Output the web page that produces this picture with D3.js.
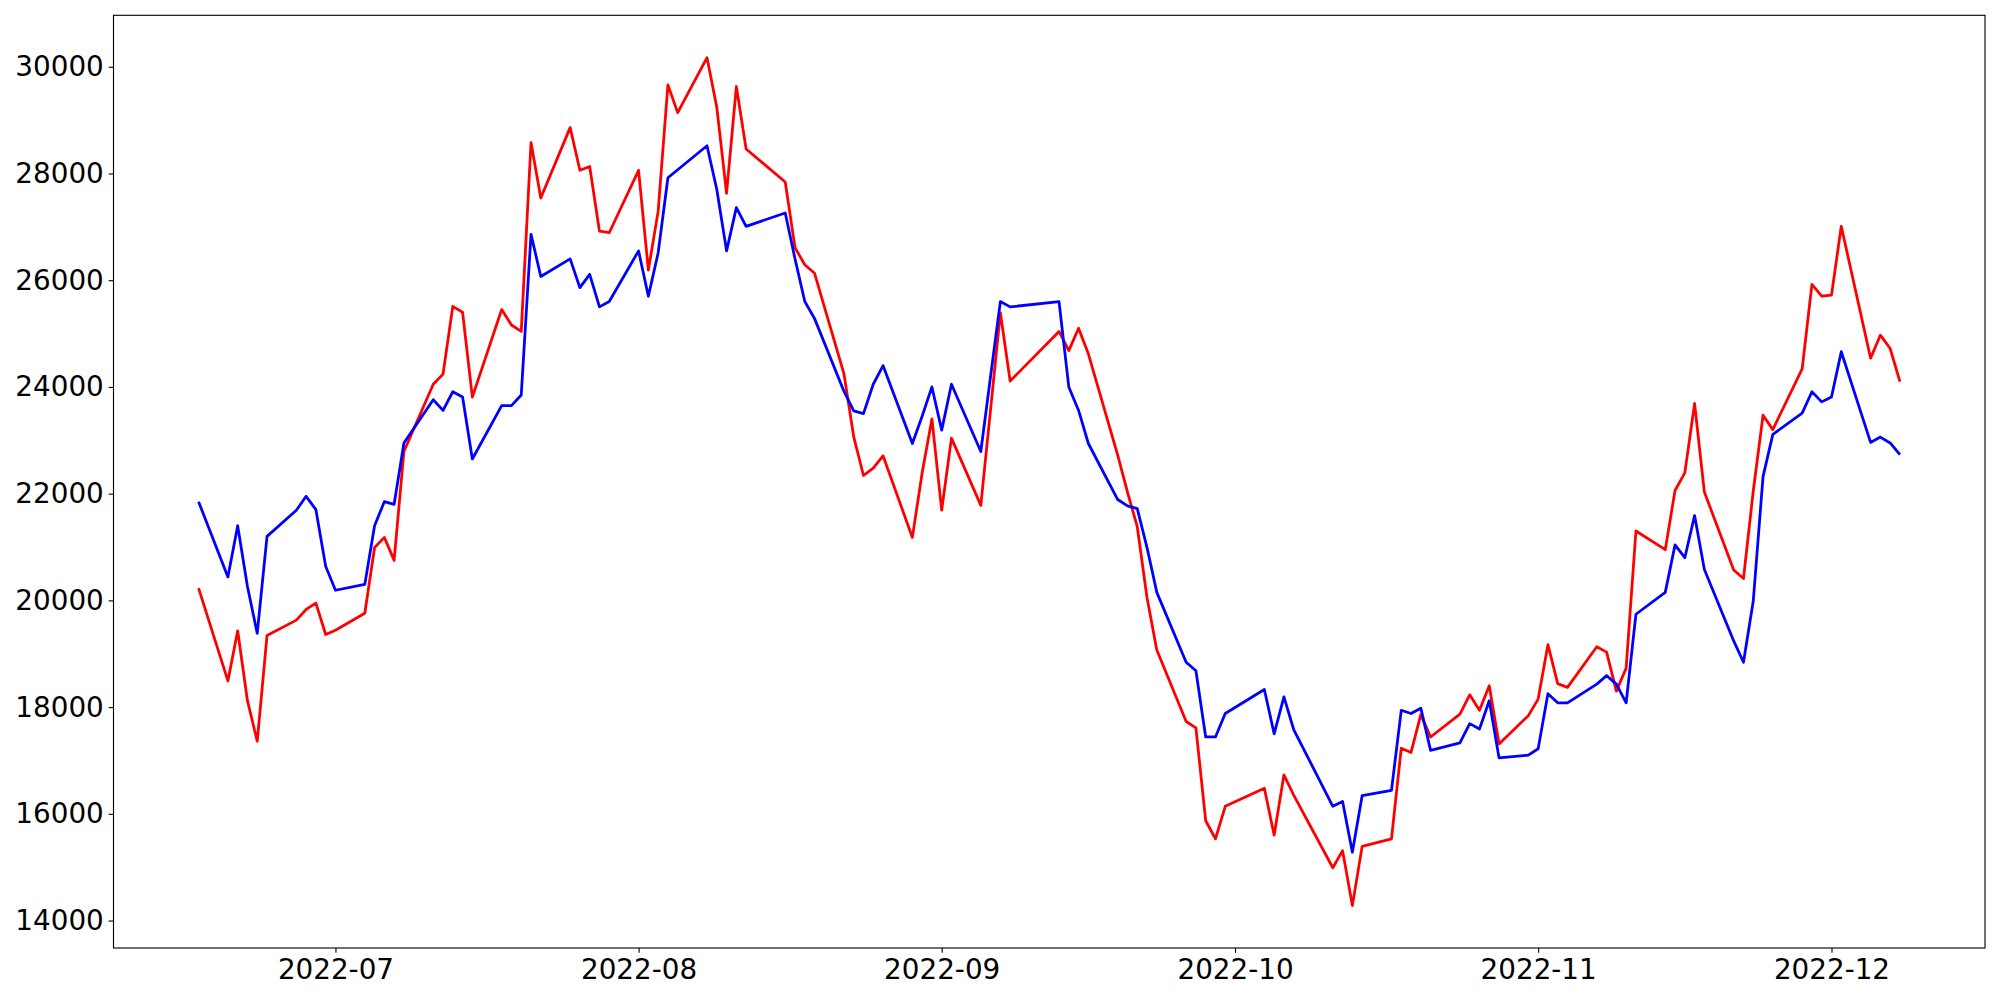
<!DOCTYPE html>
<html><head><meta charset="utf-8">
<script src="https://cdn.jsdelivr.net/npm/d3@7"></script>
<style>html,body{margin:0;padding:0;background:#fff;} svg{display:block;}</style>
</head><body>
<svg id="chart" width="2000" height="1000"></svg>
<script>
const dates = [
 "2022-06-17","2022-06-20","2022-06-21","2022-06-22","2022-06-23","2022-06-24","2022-06-27","2022-06-28","2022-06-29","2022-06-30",
 "2022-07-01","2022-07-04","2022-07-05","2022-07-06","2022-07-07","2022-07-08","2022-07-11","2022-07-12","2022-07-13","2022-07-14","2022-07-15","2022-07-18","2022-07-19","2022-07-20","2022-07-21","2022-07-22","2022-07-25","2022-07-26","2022-07-27","2022-07-28","2022-07-29",
 "2022-08-01","2022-08-02","2022-08-03","2022-08-04","2022-08-05","2022-08-08","2022-08-09","2022-08-10","2022-08-11","2022-08-12","2022-08-16","2022-08-17","2022-08-18","2022-08-19","2022-08-22","2022-08-23","2022-08-24","2022-08-25","2022-08-26","2022-08-29","2022-08-30","2022-08-31",
 "2022-09-01","2022-09-02","2022-09-05","2022-09-06","2022-09-07","2022-09-08","2022-09-13","2022-09-14","2022-09-15","2022-09-16","2022-09-19","2022-09-20","2022-09-21","2022-09-22","2022-09-23","2022-09-26","2022-09-27","2022-09-28","2022-09-29","2022-09-30",
 "2022-10-04","2022-10-05","2022-10-06","2022-10-07","2022-10-11","2022-10-12","2022-10-13","2022-10-14","2022-10-17","2022-10-18","2022-10-19","2022-10-20","2022-10-21","2022-10-24","2022-10-25","2022-10-26","2022-10-27","2022-10-28","2022-10-31",
 "2022-11-01","2022-11-02","2022-11-03","2022-11-04","2022-11-07","2022-11-08","2022-11-09","2022-11-10","2022-11-11","2022-11-14","2022-11-15","2022-11-16","2022-11-17","2022-11-18","2022-11-21","2022-11-22","2022-11-23","2022-11-24","2022-11-25","2022-11-28","2022-11-29","2022-11-30",
 "2022-12-01","2022-12-02","2022-12-05","2022-12-06","2022-12-07","2022-12-08"
];
const redSeries = [
 20230,18490,19430,18120,17360,19340,19630,19830,19950,19360,
 19440,19760,20990,21180,20750,22790,24050,24240,25510,25400,23810,25450,25160,25040,28580,27540,28860,28060,28130,26920,26890,
 28060,26190,27290,29660,29140,30170,29240,27630,29630,28460,27840,26610,26290,26130,24250,23070,22340,22480,22710,21180,22390,23400,
 21690,23040,21780,23580,25390,24110,25040,24680,25100,24620,22720,22030,21380,20050,19070,17730,17610,15870,15530,16140,
 16480,15600,16730,16350,14990,15310,14280,15390,15530,17230,17150,17860,17440,17870,18230,17940,18400,17310,17840,
 18150,19170,18440,18370,19130,19030,18300,18730,21300,20950,22060,22390,23690,22030,20570,20410,22050,23470,23200,24340,25920,25700,
 25720,27010,24540,24970,24720,24100
];
const blueSeries = [
 21850,20440,21400,20260,19380,21200,21690,21950,21700,20640,
 20190,20300,21400,21850,21800,22950,23760,23560,23910,23810,22650,23650,23650,23850,26860,26070,26400,25860,26110,25500,25600,
 26550,25700,26510,27920,28070,28520,27700,26550,27360,27010,27260,26400,25600,25280,23920,23550,23500,24050,24400,22940,23450,24000,
 23190,24050,22790,24200,25600,25500,25600,24000,23560,22940,21890,21770,21720,20990,20150,18840,18680,17440,17440,17880,
 18330,17500,18190,17580,16140,16230,15280,16340,16440,17940,17880,17980,17190,17330,17690,17590,18120,17050,17100,
 17220,18250,18080,18080,18430,18590,18430,18080,19740,20150,21040,20800,21590,20580,19240,18840,19990,22320,23110,23510,23910,23720,
 23810,24660,22960,23060,22950,22730
];
const yTicks = [14000,16000,18000,20000,22000,24000,26000,28000,30000];
const xTickLabels = ["2022-07","2022-08","2022-09","2022-10","2022-11","2022-12"];

const parse = d3.timeParse("%Y-%m-%d");
const pts = dates.map((d,i)=>({t:parse(d), r:redSeries[i], b:blueSeries[i]}));

const L=113.5, T=15.3, R=1985, B=948;
const svg = d3.select("#chart");

const tExt = d3.extent(pts, d=>d.t);
const tPad = (tExt[1]-tExt[0])*0.05;
const x = d3.scaleTime().domain([new Date(+tExt[0]-tPad), new Date(+tExt[1]+tPad)]).range([L,R]);
const all = redSeries.concat(blueSeries);
const vMin = d3.min(all), vMax = d3.max(all), vPad=(vMax-vMin)*0.05;
const y = d3.scaleLinear().domain([vMin-vPad, vMax+vPad]).range([B,T]);

const fontSize = 27.8;
const tickLen = 4.86;

// lines
const line = key => d3.line().x(d=>x(d.t)).y(d=>y(d[key]));
svg.append("path").datum(pts).attr("d", line("r")).attr("fill","none").attr("stroke","#ff0000").attr("stroke-width",2.78).attr("stroke-linejoin","round");
svg.append("path").datum(pts).attr("d", line("b")).attr("fill","none").attr("stroke","#0000ff").attr("stroke-width",2.78).attr("stroke-linejoin","round");

// axes
const xAxis = d3.axisBottom(x)
  .tickValues(xTickLabels.map(s=>parse(s+"-01")))
  .tickFormat(d3.timeFormat("%Y-%m"))
  .tickSizeInner(tickLen).tickSizeOuter(0).tickPadding(4.86);
const gx = svg.append("g").attr("transform",`translate(0,${B})`).call(xAxis);
const yAxis = d3.axisLeft(y).tickValues(yTicks).tickFormat(d3.format("d"))
  .tickSizeInner(tickLen).tickSizeOuter(0).tickPadding(4.86);
const gy = svg.append("g").attr("transform",`translate(${L},0)`).call(yAxis);
[gx,gy].forEach(g=>{
  g.select(".domain").remove();
  g.selectAll("line").attr("stroke","#000").attr("stroke-width",1.11);
  g.selectAll("text").attr("fill","#000").style("font-family","'DejaVu Sans'").style("font-size",fontSize+"px");
});
gx.selectAll("text").attr("dy","0.76em");

// frame
svg.append("rect").attr("x",L).attr("y",T).attr("width",R-L).attr("height",B-T)
  .attr("fill","none").attr("stroke","#000").attr("stroke-width",1.11);
</script>
</body></html>
